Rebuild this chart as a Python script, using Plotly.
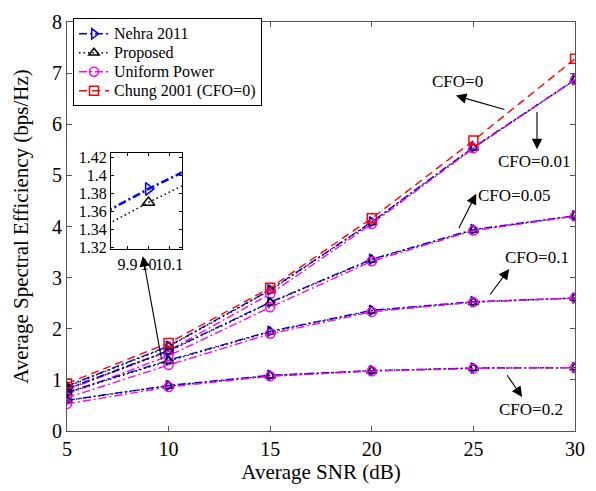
import plotly.graph_objects as go

# SNR grid (dB)
snr = [5, 10, 15, 20, 25, 30]

# Chung 2001, ideal case (CFO = 0)
chung_cfo0 = [0.93, 1.72, 2.80, 4.16, 5.68, 7.28]

# CFO = 0.01
nehra_001 = [0.88, 1.66, 2.76, 4.09, 5.55, 6.87]
prop_001 = [0.87, 1.65, 2.75, 4.08, 5.54, 6.87]
unif_001 = [0.80, 1.57, 2.68, 4.05, 5.53, 6.87]

# CFO = 0.05
nehra_005 = [0.83, 1.57, 2.52, 3.36, 3.94, 4.21]
prop_005 = [0.82, 1.56, 2.51, 3.35, 3.93, 4.21]
unif_005 = [0.72, 1.47, 2.42, 3.32, 3.92, 4.20]

# CFO = 0.1
nehra_01 = [0.76, 1.385, 1.95, 2.36, 2.53, 2.60]
prop_01 = [0.75, 1.37, 1.94, 2.35, 2.52, 2.60]
unif_01 = [0.65, 1.29, 1.90, 2.33, 2.52, 2.60]

# CFO = 0.2
nehra_02 = [0.60, 0.89, 1.09, 1.18, 1.23, 1.24]
prop_02 = [0.60, 0.88, 1.08, 1.18, 1.23, 1.24]
unif_02 = [0.53, 0.86, 1.07, 1.17, 1.22, 1.24]

x_ticks = [5, 10, 15, 20, 25, 30]
y_ticks = [0, 1, 2, 3, 4, 5, 6, 7, 8]
inset_x_ticks = [9.9, 10, 10.1]
inset_y_ticks = [1.32, 1.34, 1.36, 1.38, 1.40, 1.42]

SERIF = "Liberation Serif"
BLUE = "rgb(0,0,255)"
MAG = "rgb(255,0,255)"
RED = "rgb(255,0,0)"
DASHDOT = "8px,3px,2px,3px"
DASHED = "8px,5px"
DOTTED = "1.5px,3px"

styles = {
    "Nehra 2011": dict(color=BLUE, dash=DASHDOT, symbol="triangle-right-open"),
    "Proposed": dict(color="black", dash=DOTTED, symbol="triangle-up-open"),
    "Uniform Power": dict(color=MAG, dash=DASHDOT, symbol="circle-open"),
    "Chung 2001 (CFO=0)": dict(color=RED, dash=DASHED, symbol="square-open"),
}

fig = go.Figure()


def add_curve(name, y, show, xa="x", ya="y", width=1.4, msize=9):
    st = styles[name]
    fig.add_trace(go.Scatter(
        x=snr, y=y, legendgroup=name, showlegend=show,
        # legend rows stay compact while the label keeps a 16px face
        name=f'<span style="font-size:16px">{name}</span>',
        mode="lines+markers", xaxis=xa, yaxis=ya,
        line=dict(color=st["color"], dash=st["dash"], width=width),
        marker=dict(symbol=st["symbol"], size=msize, color=st["color"],
                    line=dict(width=1.5, color=st["color"])),
    ))


groups = [
    (nehra_001, prop_001, unif_001),
    (nehra_005, prop_005, unif_005),
    (nehra_01, prop_01, unif_01),
    (nehra_02, prop_02, unif_02),
]
for i, (n, p, u) in enumerate(groups):
    add_curve("Nehra 2011", n, i == 0)
    add_curve("Proposed", p, i == 0)
    add_curve("Uniform Power", u, i == 0)
add_curve("Chung 2001 (CFO=0)", chung_cfo0, True)

# zoomed view around SNR = 10 dB, CFO = 0.1
add_curve("Nehra 2011", nehra_01, False, "x2", "y2", width=2.6, msize=11)
add_curve("Proposed", prop_01, False, "x2", "y2", width=1.6, msize=11)

axis_common = dict(
    showline=True, linecolor="#555", linewidth=1, mirror="ticks",
    ticks="inside", ticklen=5, tickcolor="#555", showgrid=False,
    zeroline=False, tickfont=dict(family=SERIF, size=20, color="black"),
)
inset_axis = {**axis_common, "linecolor": "black", "tickcolor": "black",
              "tickfont": dict(family=SERIF, size=16, color="black"),
              "ticklen": 3, "tickangle": 0}

fig.update_layout(
    width=596, height=491,
    margin=dict(l=67, r=20, t=11, b=59),
    paper_bgcolor="white", plot_bgcolor="white",
    font=dict(family=SERIF, color="black"),
    xaxis=dict(range=[5, 30], tickvals=x_ticks, domain=[0, 1],
               title=dict(text="Average SNR (dB)", font=dict(family=SERIF, size=21), standoff=5),
               **axis_common),
    yaxis=dict(range=[0, 8], tickvals=y_ticks, domain=[0, 1],
               title=dict(text="Average Spectral Efficiency (bps/Hz)",
                          font=dict(family=SERIF, size=21), standoff=17),
               **axis_common),
    xaxis2=dict(range=[9.82, 10.16], tickvals=inset_x_ticks, ticktext=["9.9", "10", "10.1"],
                domain=[0.0864, 0.226], anchor="y2", **inset_axis),
    yaxis2=dict(range=[1.318, 1.4245], tickvals=inset_y_ticks,
                ticktext=["1.32", "1.34", "1.36", "1.38", "1.4", "1.42"],
                domain=[0.444, 0.679], anchor="x2", **inset_axis),
    legend=dict(x=0.0118, y=1.009, xanchor="left", yanchor="top",
                bgcolor="white", bordercolor="black", borderwidth=1,
                font=dict(family=SERIF, size=12), tracegroupgap=0,
                itemwidth=30),
    showlegend=True,
)

# white backdrop for the inset
fig.add_shape(type="rect", xref="paper", yref="paper", x0=0.0864, x1=0.226,
              y0=0.444, y1=0.679, fillcolor="white", line=dict(width=0), layer="below")

# CFO labels with arrows: (label, text x, text y, head x, head y, tail x, tail y)
labels = [
    ("CFO=0", 24.2, 6.83, 24.14, 6.56, 26.6, 6.28),
    ("CFO=0.01", 27.99, 5.27, 28.13, 5.51, 28.13, 6.27),
    ("CFO=0.05", 27.0, 4.60, 25.14, 4.64, 24.25, 3.94),
    ("CFO=0.1", 28.13, 3.40, 26.76, 3.17, 25.77, 2.64),
    ("CFO=0.2", 27.84, 0.42, 27.40, 0.665, 26.61, 1.12),
]
for txt, tx, ty, hx, hy, sx, sy in labels:
    fig.add_annotation(x=tx, y=ty, xref="x", yref="y", text=txt, showarrow=False,
                       font=dict(family=SERIF, size=17, color="black"))
    fig.add_annotation(x=hx, y=hy, ax=sx, ay=sy, xref="x", yref="y", axref="x", ayref="y",
                       text="", showarrow=True, arrowhead=2, arrowsize=1.9,
                       arrowwidth=1.1, arrowcolor="black")

# pointer from the CFO = 0.1 point at 10 dB to the inset
fig.add_annotation(x=8.73, y=3.42, ax=9.67, ay=1.37, xref="x", yref="y", axref="x", ayref="y",
                   text="", showarrow=True, arrowhead=2, arrowsize=1.9,
                   arrowwidth=1.1, arrowcolor="black")

fig.write_html("out.html")
